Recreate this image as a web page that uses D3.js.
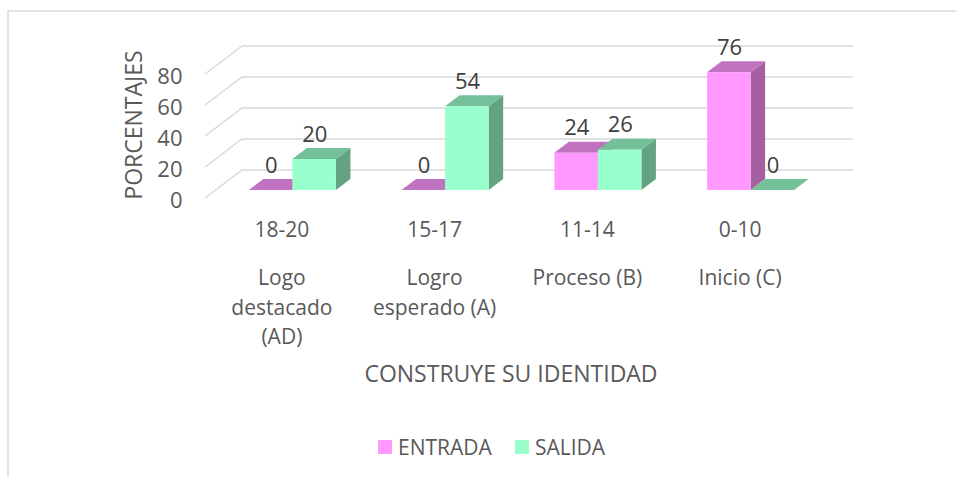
<!DOCTYPE html>
<html><head><meta charset="utf-8">
<script src="https://cdnjs.cloudflare.com/ajax/libs/d3/7.8.5/d3.min.js"></script>
<style>html,body{margin:0;padding:0;background:#fff}svg{display:block}text{font-family:"Open Sans",sans-serif}</style>
</head><body><svg id="c" width="956" height="477"></svg>
<script>
const categories = ["18-20","15-17","11-14","0-10"];
const levelLabels = [["Logo","destacado","(AD)"],["Logro","esperado (A)"],["Proceso (B)"],["Inicio (C)"]];
const seriesNames = ["ENTRADA","SALIDA"];
const entrada = [0,0,24,76];
const salida = [20,54,26,0];
const yTicks = [0,20,40,60,80];
const colors = ["#ff99ff","#99ffcc"];
const tops = ["#c073c0","#73c09a"];
const sides = ["#a5619f","#63a382"];

const svg = d3.select("#c");
const y = d3.scaleLinear().domain([0,80]).range([198,74]);
const x = d3.scaleBand().domain(categories).range([216,827]).paddingInner(0.43).paddingOuter(0.215);
const inner = d3.scaleBand().domain([0,1]).range([0,x.bandwidth()]);
const wall = {dx:37,dy:-28}, plane = -8, depth = {dx:14.5,dy:-11};

// frame
svg.append("path").attr("d","M8 477V11H956").attr("fill","none").attr("stroke","#e2e2e2").attr("stroke-width",2);

// gridlines
const grid = svg.append("g").attr("fill","none").attr("stroke","#d9d9d9").attr("stroke-width",1.4);
yTicks.forEach(t=>{
  const p = d3.path();
  p.moveTo(205,y(t)); p.lineTo(205+wall.dx,y(t)+wall.dy); p.lineTo(853,y(t)+wall.dy);
  grid.append("path").attr("d",p);
});
// y tick labels
svg.append("g").selectAll("text").data(yTicks).join("text")
  .attr("x",182.5).attr("y",t=>y(t)+9.5).attr("text-anchor","end")
  .attr("font-size",22).attr("fill","#595959").text(d=>d);

// bars
const rows = [];
categories.forEach((c,i)=>{ [entrada[i],salida[i]].forEach((v,s)=>rows.push({c,s,v})); });
const bars = svg.append("g");
rows.forEach(d=>{
  const x0 = x(d.c)+inner(d.s), w = inner.bandwidth();
  const yb = y(0)+plane, yt = y(d.v)+plane;
  const g = bars.append("g");
  const poly = pts => pts.map(p=>p.join(",")).join(" ");
  g.append("polygon").attr("fill",sides[d.s]).attr("points",poly([[x0+w,yt],[x0+w+depth.dx,yt+depth.dy],[x0+w+depth.dx,yb+depth.dy],[x0+w,yb]]));
  g.append("polygon").attr("fill",tops[d.s]).attr("points",poly([[x0,yt],[x0+depth.dx,yt+depth.dy],[x0+w+depth.dx,yt+depth.dy],[x0+w,yt]]));
  g.append("rect").attr("x",x0).attr("y",yt).attr("width",w).attr("height",yb-yt).attr("fill",colors[d.s]);
  svg.append("text").attr("class","val").attr("x",x0+w/2+0.7).attr("y",yt-17.5).attr("text-anchor","middle")
    .attr("font-size",22).attr("fill","#404040").text(d.v);
});
svg.selectAll("text.val").raise();

// category labels
const catY = svg.append("g").attr("font-size",21).attr("fill","#595959").attr("text-anchor","middle");
categories.forEach((c,i)=>{
  const cx = x(c)+x.bandwidth()/2-10.5;
  catY.append("text").attr("x",cx).attr("y",237).text(c);
  levelLabels[i].forEach((l,j)=>catY.append("text").attr("x",cx).attr("y",285+j*29.5).text(l));
});

// axis titles
svg.append("text").attr("transform","translate(142,125) rotate(-90)").attr("text-anchor","middle").attr("font-size",23).attr("fill","#595959").text("PORCENTAJES");
svg.append("text").attr("x",511).attr("y",382).attr("text-anchor","middle").attr("font-size",23).attr("fill","#595959").text("CONSTRUYE SU IDENTIDAD");

// legend
const lg = svg.append("g").attr("font-size",21).attr("fill","#595959");
const legendX = d3.scaleOrdinal().domain(seriesNames).range([378,515]);
seriesNames.forEach((n,i)=>{
  lg.append("rect").attr("x",legendX(n)).attr("y",440).attr("width",14).attr("height",14).attr("fill",colors[i]);
  lg.append("text").attr("x",legendX(n)+20).attr("y",455).text(n);
});
</script></body></html>
